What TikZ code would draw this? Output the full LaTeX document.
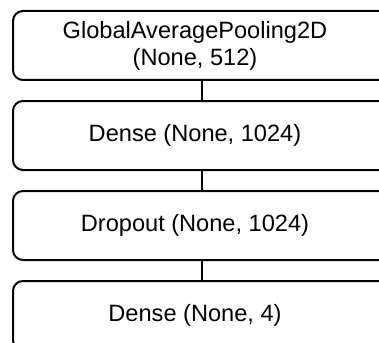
\documentclass[tikz,border=0pt]{standalone}
\usepackage{fontspec}
\setmainfont{Liberation Sans}
\usetikzlibrary{positioning}
\tikzset{
  layerbox/.style={draw, line width=2pt, rounded corners=10pt, minimum width=378pt, minimum height=69pt, inner sep=0pt},
  layertxt/.style={font=\fontsize{23.6}{27}\selectfont, align=center, inner sep=0pt},
  link/.style={line width=2pt},
}
\begin{document}
\begin{tikzpicture}[x=1pt,y=-1pt]
  \useasboundingbox (0,0) rectangle (379,342);
  \clip (0,0) rectangle (379,342);

  % Layer boxes
  \node[layerbox] (gap) at (202,45.5) {};
  \node[layerbox, below=19pt of gap] (dense1) {};
  \node[layerbox, below=19pt of dense1] (drop) {};
  \node[layerbox, below=19pt of drop] (dense2) {};

  % Layer texts
  \node[layertxt] (gapt) at ([xshift=-7pt]gap.center) {GlobalAveragePooling2D\\(None, 512)};
  \node[layertxt] (dense1t) at ([xshift=-7pt]dense1.center) {Dense (None, 1024)};
  \node[layertxt] (dropt) at ([xshift=-7pt]drop.center) {Dropout (None, 1024)};
  \node[layertxt] (dense2t) at ([xshift=-7pt]dense2.center) {Dense (None, 4)};

  % Connectors
  \draw[link] (gap) -- (dense1);
  \draw[link] (dense1) -- (drop);
  \draw[link] (drop) -- (dense2);
\end{tikzpicture}
\end{document}
